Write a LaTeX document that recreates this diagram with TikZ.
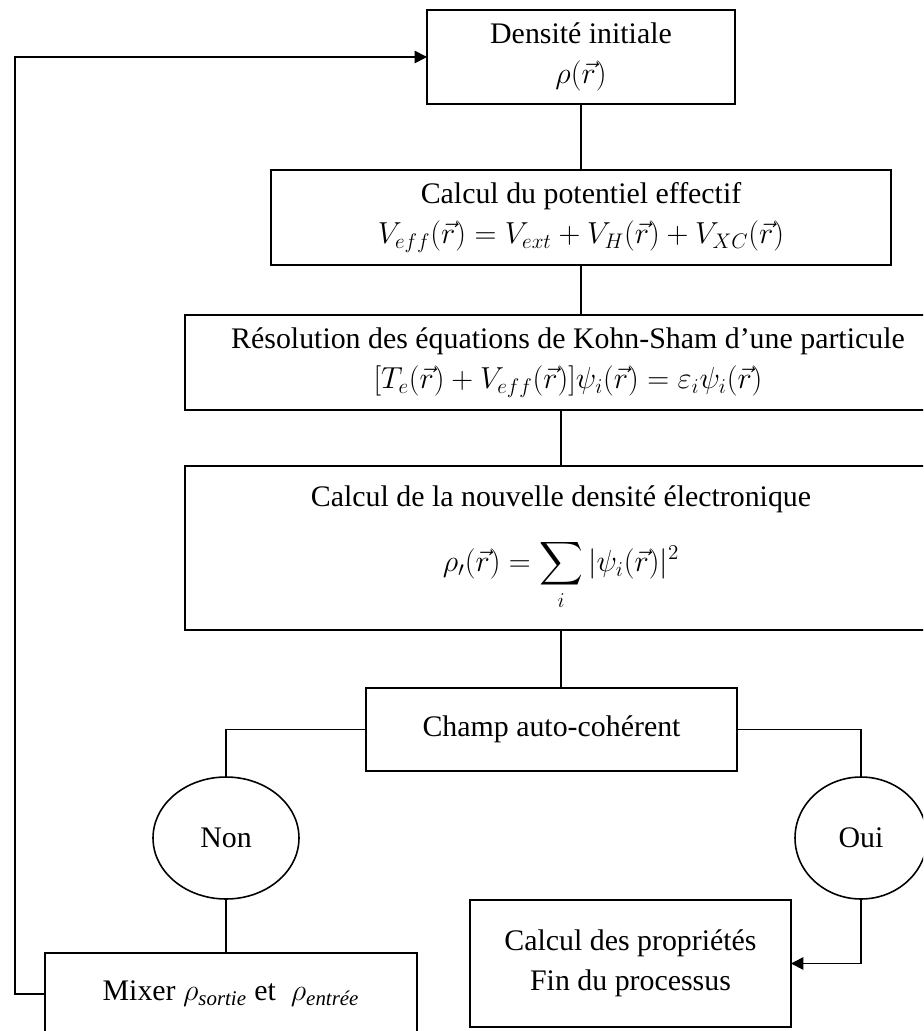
\documentclass[tikz,border=0pt]{standalone}
\usepackage{amsmath}
\usepackage{fontspec}
\setmainfont{Liberation Serif}
\usetikzlibrary{arrows.meta, positioning, shapes.geometric, calc}

\begin{document}
\begin{tikzpicture}[
  x=0.02cm, y=-0.02cm,
  every node/.style={font=\fontsize{17}{23}\selectfont},
  procbox/.style={rectangle, draw, line width=0.9pt, inner sep=0pt, outer sep=0pt, align=center},
  choixnode/.style={ellipse, draw, line width=0.9pt, inner sep=0pt, outer sep=0pt},
  lien/.style={line width=0.9pt},
  fleche/.style={line width=0.9pt, -{Triangle[length=7pt, width=7pt]}},
]
\useasboundingbox (0,0) rectangle (923,1031);
\clip (0,0) rectangle (923,1031);

% Boucle auto-coherente
\node[procbox, minimum width=6.16cm, minimum height=1.88cm] (init) at (581, 57) {Densité initiale\\ $\rho(\vec{r})$};
\node[procbox, minimum width=12.4cm, minimum height=1.9cm] (pot) at (581, 217.5) {Calcul du potentiel effectif\\ $V_{eff}(\vec{r}) = V_{ext} + V_{H}(\vec{r}) + V_{XC}(\vec{r})$};
\node[procbox, minimum width=15.32cm, minimum height=1.9cm] (ks) at (568, 362.5) {Résolution des équations de Kohn-Sham d’une particule\\ $[T_{e}(\vec{r}) + V_{eff}(\vec{r})]\psi_{i}(\vec{r}) = \varepsilon_{i}\psi_{i}(\vec{r})$};
\node[procbox, minimum width=15.04cm, minimum height=3.28cm] (dens) at (561, 548) {Calcul de la nouvelle densité électronique\\[14pt] $\displaystyle \rho_{\prime}(\vec{r}) = \sum_{i} |\psi_{i}(\vec{r})|^{2}$};
\node[procbox, minimum width=7.42cm, minimum height=1.66cm] (champ) at (551.5, 729.5) {Champ auto-cohérent};

% Test de convergence
\node[choixnode, minimum width=2.92cm, minimum height=2.44cm] (non) at (226, 838) {Non};
\node[choixnode, minimum width=2.64cm, minimum height=2.44cm] (oui) at (861, 838) {Oui};

\node[procbox, minimum width=7.44cm, minimum height=1.64cm] (mix) at (231, 994) {Mixer $\rho_{\text{\itshape sortie}}$ et\ \ $\rho_{\text{\itshape entrée}}$};
\node[procbox, minimum width=6.42cm, minimum height=2.54cm] (prop) at (630.5, 963.5) {Calcul des propriétés\\ Fin du processus};

\draw[lien] (init.south) -- (pot.north);
\draw[lien] (pot.south) -- (pot.south |- ks.north);
\draw[lien] (dens.north) -- (dens.north |- ks.south);
\draw[lien] (dens.south) -- (dens.south |- champ.north);
\draw[lien] (champ.west) -| (non.north);
\draw[lien] (champ.east) -| (oui.north);
\draw[lien] (non.south) -- (non.south |- mix.north);
\draw[fleche] (oui.south) |- (prop.east);
\draw[fleche] (mix.west) -- ++(-30,0) |- (init.west);

\end{tikzpicture}
\end{document}
